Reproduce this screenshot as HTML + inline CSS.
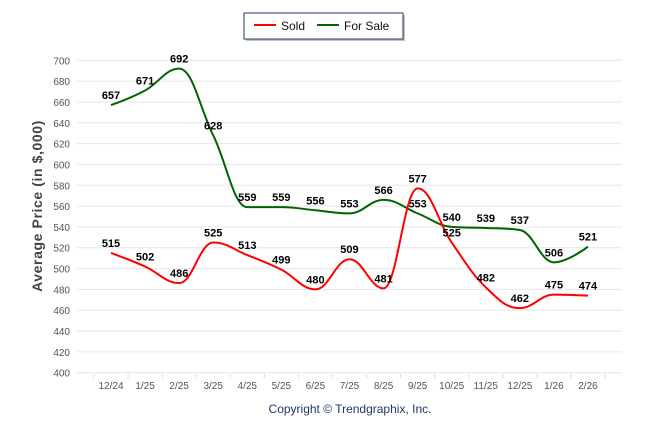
<!DOCTYPE html>
<html><head><meta charset="utf-8"><style>
body{margin:0;background:#fff;}
svg{display:block;font-family:"Liberation Sans",Arial,sans-serif;}
</style></head><body>
<svg id="c" width="646" height="434">
<g>
<rect x="246" y="15" width="159" height="26" fill="#999" opacity="0.6"/>
<rect x="244" y="13" width="159" height="26" fill="#fff" stroke="#1f3864" stroke-width="1"/>
<g><line x1="254" y1="25" x2="276" y2="25" stroke="#f00" stroke-width="2"/><text x="281" y="30" font-size="12" fill="#111">Sold</text></g>
<g><line x1="317" y1="25" x2="339" y2="25" stroke="#006400" stroke-width="2"/><text x="344" y="30" font-size="12" fill="#111">For Sale</text></g>
</g>
<g id="grid"></g>
<g id="xaxis"></g>
<g id="yaxis"></g>
<text x="42" y="206" transform="rotate(-90 42 206)" text-anchor="middle" font-size="14" font-weight="bold" letter-spacing="0.6" fill="#444">Average Price (in $,000)</text>
<g id="series"></g>
<text x="350" y="413" text-anchor="middle" font-size="12" fill="#1f3864">Copyright © Trendgraphix, Inc.</text>
</svg>
<script>
const categories=["12/24","1/25","2/25","3/25","4/25","5/25","6/25","7/25","8/25","9/25","10/25","11/25","12/25","1/26","2/26"];
const soldValues=[515,502,486,525,513,499,480,509,481,577,525,482,462,475,474];
const forSaleValues=[657,671,692,628,559,559,556,553,566,553,540,539,537,506,521];
const yTicks=[400,420,440,460,480,500,520,540,560,580,600,620,640,660,680,700];
const NS="http://www.w3.org/2000/svg";
const x0=111,dx=34.07,plotL=77,plotR=622;
function xs(i){return x0+i*dx;}
function ys(v){return 372.7-(v-400)*1.0413;}
function mk(tag,attrs,parent){const e=document.createElementNS(NS,tag);for(const k in attrs)e.setAttribute(k,attrs[k]);parent.appendChild(e);return e;}
const grid=document.getElementById('grid'),ya=document.getElementById('yaxis'),xa=document.getElementById('xaxis'),ser=document.getElementById('series');
yTicks.forEach(t=>{
 const l=mk('line',{x1:plotL,x2:plotR,y1:ys(t),y2:ys(t),stroke:'#e6e6e6','stroke-width':1},grid);
 
 
 const tx=mk('text',{x:70,y:ys(t)+4,'text-anchor':'end','font-size':10,fill:'#555'},ya);
 tx.textContent=t;
 
 
});
for(let i=0;i<=categories.length;i++){mk('line',{x1:xs(i)-dx/2,x2:xs(i)-dx/2,y1:ys(400)+1,y2:ys(400)+6,stroke:'#ddd'},xa);}
categories.forEach((c,i)=>{
 const tx=mk('text',{x:xs(i),y:389,'text-anchor':'middle','font-size':10,fill:'#555'},xa);
 tx.textContent=c;
 
 
});
function spline(vals){
 const P=vals.map((v,i)=>[xs(i),ys(v)]);
 const cps=P.map((p,i)=>{
  if(i===0||i===P.length-1)return null;
  const s=1.5,d=2.5,[x,y]=p,[lx,ly]=P[i-1],[nx,ny]=P[i+1];
  let lcx=(s*x+lx)/d,lcy=(s*y+ly)/d,rcx=(s*x+nx)/d,rcy=(s*y+ny)/d;
  const corr=((rcy-lcy)*(rcx-x))/(rcx-lcx)+y-rcy;lcy+=corr;rcy+=corr;
  if(lcy>ly&&lcy>y){lcy=Math.max(ly,y);rcy=2*y-lcy;}else if(lcy<ly&&lcy<y){lcy=Math.min(ly,y);rcy=2*y-lcy;}
  if(rcy>ny&&rcy>y){rcy=Math.max(ny,y);lcy=2*y-rcy;}else if(rcy<ny&&rcy<y){rcy=Math.min(ny,y);lcy=2*y-rcy;}
  return {l:[lcx,lcy],r:[rcx,rcy]};
 });
 let d='M'+P[0][0]+' '+P[0][1];
 for(let i=1;i<P.length;i++){
  const a=cps[i-1]?cps[i-1].r:P[i-1],b=cps[i]?cps[i].l:P[i];
  d+=` C${a[0]} ${a[1]} ${b[0]} ${b[1]} ${P[i][0]} ${P[i][1]}`;
 }
 return d;
}
function draw(vals,color,name){
 const p=mk('path',{d:spline(vals),fill:'none',stroke:color,'stroke-width':2},ser);
 
 
 vals.forEach((v,i)=>{
  const t=mk('text',{x:xs(i),y:ys(v)-6,'text-anchor':'middle','font-size':11,'font-weight':'bold',fill:'#000'},ser);
  t.textContent=v;
  
  
 });
}
draw(forSaleValues,'#006400','for-sale');
draw(soldValues,'#f00','sold');
</script>
</body></html>
